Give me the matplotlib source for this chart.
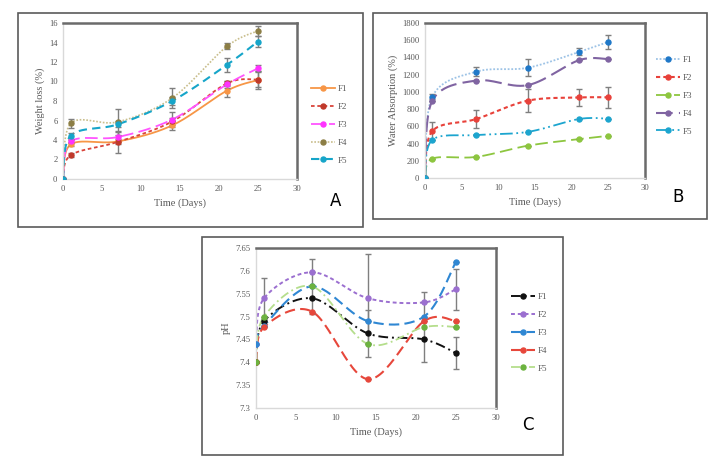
import numpy as np
import matplotlib
matplotlib.use('Agg')
import matplotlib.pyplot as plt
from matplotlib.lines import Line2D
from matplotlib.patches import Rectangle

plt.rcParams['font.family'] = ['Liberation Serif', 'DejaVu Serif']

days = [0, 1, 7, 14, 21, 25]
names = ['F1', 'F2', 'F3', 'F4', 'F5']

# A - weight loss (%)
wl = {
    'F1': [0, 3.55, 3.85, 5.5, 9.05, 10.15],
    'F2': [0, 2.45, 3.8, 5.9, 9.8, 10.2],
    'F3': [0, 3.85, 4.3, 6.1, 9.7, 11.35],
    'F4': [0, 5.7, 5.85, 8.3, 13.6, 15.2],
    'F5': [0, 4.45, 5.6, 8.0, 11.7, 14.1],
}
wl_err = {
    'F1': [0, 0.2, 0.3, 0.5, 0.6, 0.9],
    'F2': [0, 0.2, 1.1, 0.4, 0.3, 0.8],
    'F3': [0, 0.2, 0.5, 0.8, 0.4, 0.3],
    'F4': [0, 0.5, 1.35, 1.0, 0.3, 0.5],
    'F5': [0, 0.3, 0.3, 0.4, 0.7, 0.55],
}

# B - water absorption (%)
wa = {
    'F1': [0, 945, 1235, 1280, 1465, 1580],
    'F2': [0, 545, 685, 898, 935, 937],
    'F3': [0, 225, 245, 375, 452, 490],
    'F4': [0, 898, 1132, 1078, 1368, 1380],
    'F5': [0, 443, 498, 535, 685, 688],
}
wa_err = {
    'F1': [0, 30, 50, 100, 40, 80],
    'F2': [0, 100, 100, 130, 100, 125],
    'F3': [0, 0, 0, 0, 0, 0],
    'F4': [0, 0, 0, 0, 0, 0],
    'F5': [0, 0, 0, 0, 0, 0],
}

# C - pH
ph = {
    'F1': [7.40, 7.49, 7.54, 7.463, 7.45, 7.42],
    'F2': [7.44, 7.54, 7.597, 7.54, 7.531, 7.56],
    'F3': [7.44, 7.48, 7.566, 7.49, 7.50, 7.62],
    'F4': [7.40, 7.477, 7.511, 7.363, 7.49, 7.49],
    'F5': [7.40, 7.50, 7.566, 7.44, 7.477, 7.477],
}
ph_err = {
    'F1': [0, 0, 0, 0.052, 0, 0.035],
    'F2': [0, 0.045, 0, 0.097, 0, 0.045],
    'F3': [0, 0, 0, 0, 0, 0],
    'F4': [0, 0, 0, 0, 0, 0],
    'F5': [0, 0, 0.06, 0, 0.076, 0],
}


def smooth(x, y, n=30):
    # excel-like smoothed line (bezier, 1/6 tension)
    x = np.asarray(x, float)
    y = np.asarray(y, float)
    P = np.column_stack([x, y])
    out = [P[0]]
    t = np.linspace(0, 1, n)[1:, None]
    for i in range(len(P) - 1):
        p0 = P[max(i - 1, 0)]
        p1 = P[i]
        p2 = P[i + 1]
        p3 = P[min(i + 2, len(P) - 1)]
        c1 = p1 + (p2 - p0) / 6
        c2 = p2 - (p3 - p1) / 6
        seg = ((1 - t) ** 3) * p1 + 3 * ((1 - t) ** 2) * t * c1 + 3 * (1 - t) * t ** 2 * c2 + t ** 3 * p2
        out.extend(seg)
    out = np.array(out)
    return out[:, 0], out[:, 1]


def panel(fig, rect, data, err, styles, ylim, yticks, yfmt, ylabel, leg_anchor, letter, letter_xy):
    ax = fig.add_axes(rect)
    handles = []
    for k in names:
        lc, mc, ls, lw = styles[k]
        sx, sy = smooth(days, data[k])
        ax.plot(sx, sy, color=lc, ls=ls, lw=lw, zorder=2)
        ax.errorbar(days, data[k], yerr=err[k], fmt='o', ms=3.6, color=mc, ecolor='#7f7f7f',
                    elinewidth=1, capsize=2, capthick=1, zorder=3)
        handles.append(Line2D([], [], color=lc, ls=ls, lw=lw, marker='o', ms=3.6,
                              markerfacecolor=mc, markeredgecolor=mc))
    ax.set_xlim(0, 30)
    ax.set_ylim(*ylim)
    ax.set_xticks([0, 5, 10, 15, 20, 25, 30])
    ax.set_yticks(yticks)
    ax.set_yticklabels([yfmt(v) for v in yticks])
    ax.tick_params(length=0, labelsize=6.2, colors='#595959', pad=4)
    for s in ['top', 'right']:
        ax.spines[s].set_color('#6b6b6b')
        ax.spines[s].set_linewidth(1.8)
    for s in ['left', 'bottom']:
        ax.spines[s].set_color('#d9d9d9')
        ax.spines[s].set_linewidth(1)
    ax.set_xlabel('Time (Days)', fontsize=7.5, color='#595959', labelpad=4)
    ax.set_ylabel(ylabel, fontsize=7.5, color='#595959', labelpad=3)
    fig.legend(handles=handles, labels=names, loc='upper left', bbox_to_anchor=leg_anchor,
               frameon=False, fontsize=6.5, labelcolor='#595959', handlelength=2.6,
               labelspacing=1.05, handletextpad=0.3)
    fig.text(letter_xy[0], letter_xy[1], letter, fontsize=12, family='DejaVu Sans',
             ha='center', va='center')
    return ax


W, H = 727, 472
fig = plt.figure(figsize=(7.27, 4.72), dpi=100)


def fx(px):
    return px / W


def fy(py):
    return 1 - py / H


# outer frames
for (x0, y0, x1, y1) in [(18, 13, 363, 227), (373, 13, 707, 219), (202, 237, 563, 455)]:
    fig.patches.append(Rectangle((fx(x0), fy(y1)), fx(x1) - fx(x0), fy(y0) - fy(y1),
                                 transform=fig.transFigure, fill=False, ec='#5a5a5a', lw=1.2))

styles_a = {
    'F1': ('#F79646', '#F79646', '-', 1.3),
    'F2': ('#D9443A', '#C0392B', (0, (2, 1.5)), 1.3),
    'F3': ('#FF55FF', '#FF33FF', (0, (7, 3)), 1.3),
    'F4': ('#C9BE8C', '#8C7E45', (0, (1, 1)), 1.2),
    'F5': ('#16A5C9', '#16A5C9', (0, (4, 2.5)), 1.5),
}
panel(fig, [fx(63), fy(179), fx(297) - fx(63), fy(23) - fy(179)], wl, wl_err, styles_a,
      (0, 16), [0, 2, 4, 6, 8, 10, 12, 14, 16], lambda v: '%d' % v, 'Weight loss (%)',
      (fx(303), fy(77)), 'A', (fx(336), fy(201)))

styles_b = {
    'F1': ('#9DC3E6', '#1F78C8', (0, (1, 1)), 1.3),
    'F2': ('#E8413A', '#E8413A', (0, (2, 1.5)), 1.5),
    'F3': ('#8DC63F', '#8DC63F', (0, (7, 3)), 1.3),
    'F4': ('#8064A2', '#8064A2', (0, (8, 3)), 1.5),
    'F5': ('#1CA5CF', '#1CA5CF', (0, (7, 2, 1, 2, 1, 2)), 1.3),
}
panel(fig, [fx(425), fy(178), fx(645) - fx(425), fy(23) - fy(178)], wa, wa_err, styles_b,
      (0, 1800), list(range(0, 1801, 200)), lambda v: '%d' % v, 'Water Absorption (%)',
      (fx(648), fy(48)), 'B', (fx(678), fy(197)))

styles_c = {
    'F1': ('#111111', '#111111', (0, (5, 2, 1, 2)), 1.4),
    'F2': ('#9B6FD0', '#9B6FD0', (0, (2, 1.5)), 1.4),
    'F3': ('#2F87D3', '#2F87D3', (0, (5, 2.5)), 1.5),
    'F4': ('#E7473B', '#E7473B', (0, (5, 2.5)), 1.5),
    'F5': ('#B5DE8C', '#6CB33F', (0, (5, 2, 1, 2)), 1.3),
}
panel(fig, [fx(256), fy(408), fx(496) - fx(256), fy(248) - fy(408)], ph, ph_err, styles_c,
      (7.3, 7.65), [7.3, 7.35, 7.4, 7.45, 7.5, 7.55, 7.6, 7.65], lambda v: ('%.2f' % v).rstrip('0'),
      'pH', (fx(503), fy(285)), 'C', (fx(528), fy(425)))

fig.savefig('out.png', dpi=100)
